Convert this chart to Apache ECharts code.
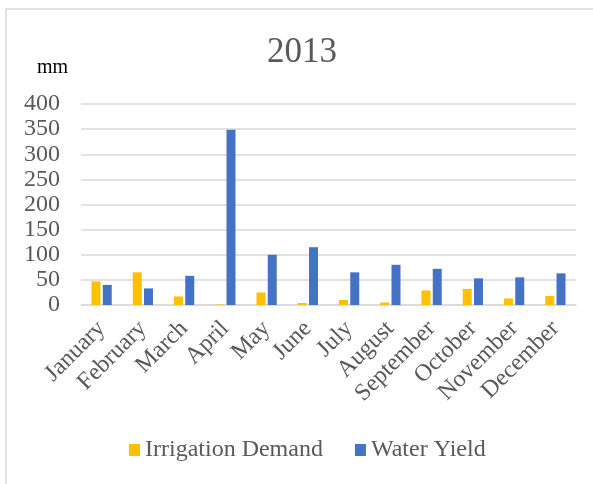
<!DOCTYPE html>
<html>
<head>
<meta charset="utf-8">
<script src="https://cdn.jsdelivr.net/npm/echarts@6/dist/echarts.min.js"></script>
<style>
  html, body { margin: 0; padding: 0; background: #ffffff; }
  #chart { width: 593px; height: 484px; }
</style>
</head>
<body>
<div id="chart"></div>
<script>
// Monthly irrigation demand vs. water yield, 2013 (mm)
const months = ['January', 'February', 'March', 'April', 'May', 'June',
                'July', 'August', 'September', 'October', 'November', 'December'];
const irrigationDemand = [47, 65, 17, 1, 25, 4, 10, 5, 29, 32, 13, 18];
const waterYield = [40, 33, 58, 349, 100, 115, 65, 80, 72, 53, 55, 63];
const yTicks = [0, 50, 100, 150, 200, 250, 300, 350, 400];

const serif = '"Liberation Serif", "Times New Roman", serif';
const grey = '#595959';

const chart = echarts.init(document.getElementById('chart'), null, { renderer: 'canvas' });
chart.setOption({
  animation: false,
  backgroundColor: '#ffffff',
  graphic: [
    {
      type: 'rect',
      shape: { x: 6, y: 9, width: 620, height: 500 },
      style: { fill: 'none', stroke: '#d9d9d9', lineWidth: 1.5 },
      silent: true
    },
    {
      type: 'text',
      left: 37, top: 58,
      style: { text: 'mm', font: '20px ' + serif, fill: '#000000' }
    }
  ],
  title: {
    text: '2013',
    left: 262,
    top: 30,
    textStyle: { fontFamily: serif, fontSize: 35, fontWeight: 'normal', color: grey }
  },
  legend: {
    top: 433,
    left: 124,
    itemWidth: 11,
    itemHeight: 12,
    itemGap: 32,
    icon: 'rect',
    textStyle: { fontFamily: serif, fontSize: 24, color: grey },
    data: ['Irrigation Demand', 'Water Yield']
  },
  grid: { left: 81, right: 17, top: 104, bottom: 179, containLabel: false },
  xAxis: {
    type: 'category',
    data: months,
    axisLine: { lineStyle: { color: '#d9d9d9', width: 1.5 } },
    axisTick: { show: false },
    axisLabel: {
      interval: 0,
      rotate: 45,
      margin: 20,
      fontFamily: serif,
      fontSize: 24,
      color: grey
    }
  },
  yAxis: {
    type: 'value',
    min: yTicks[0],
    max: yTicks[yTicks.length - 1],
    interval: 50,
    axisLine: { show: false },
    axisTick: { show: false },
    splitLine: { lineStyle: { color: '#d9d9d9', width: 1.5 } },
    axisLabel: { margin: 21, fontFamily: serif, fontSize: 24, color: grey }
  },
  series: [
    {
      name: 'Irrigation Demand',
      type: 'bar',
      data: irrigationDemand,
      barWidth: 9,
      barGap: '25%',
      itemStyle: { color: '#FFC000' }
    },
    {
      name: 'Water Yield',
      type: 'bar',
      data: waterYield,
      barWidth: 9,
      itemStyle: { color: '#4472C4' }
    }
  ]
});
</script>
</body>
</html>
